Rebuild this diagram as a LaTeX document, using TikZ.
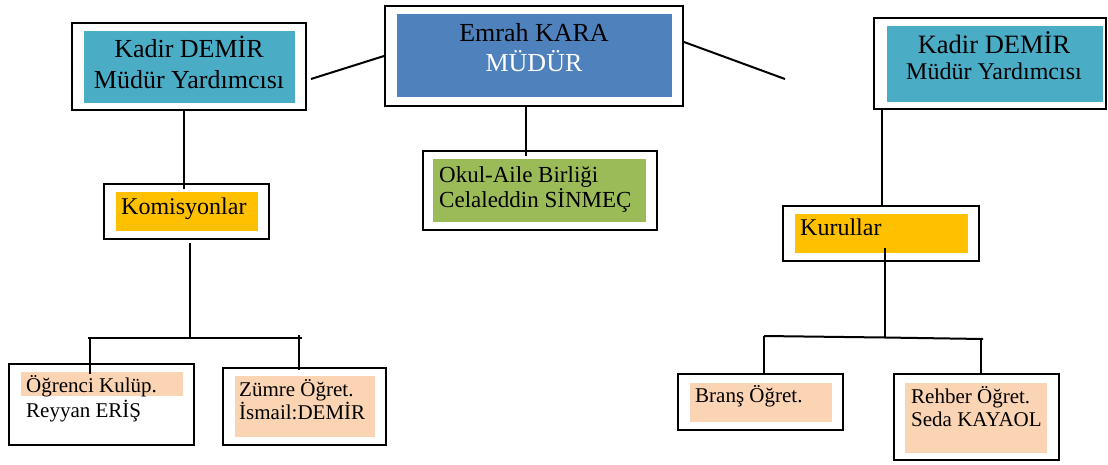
\documentclass[tikz,border=0pt]{standalone}
\usepackage{fontspec}
\setmainfont{Liberation Serif}
\definecolor{tealc}{HTML}{4BACC6}
\definecolor{bluec}{HTML}{4F81BD}
\definecolor{greenc}{HTML}{9BBB59}
\definecolor{orangec}{HTML}{FFC000}
\definecolor{peachc}{HTML}{FBD4B4}
\tikzset{
  outerbox/.style={draw=black, line width=2pt, rectangle, inner sep=0pt},
  fillbox/.style={rectangle, inner sep=0pt, draw=none},
  txt/.style={inner sep=0pt, anchor=base},
  ltxt/.style={inner sep=0pt, anchor=base west},
  link/.style={draw=black, line width=2pt},
  fbig/.style={font=\fontsize{26}{31}\selectfont},
  fmid/.style={font=\fontsize{23}{27}\selectfont},
  fsmall/.style={font=\fontsize{21}{25}\selectfont}
}
\begin{document}
\begin{tikzpicture}[x=1pt,y=-1pt]
\useasboundingbox (0,0) rectangle (1108,464);
% ---- Left Kadir DEMIR
\node[outerbox, minimum width=234pt, minimum height=87pt] (kdL) at (189,66.5) {};
\node[fillbox, fill=tealc, minimum width=211pt, minimum height=72pt] (kdLin) at (189,67) {};
\node[txt, fbig] (kdL1) at (189,57) {Kadir DEMİR};
\node[txt, fbig] (kdL2) at (189,88) {Müdür Yardımcısı};
% ---- Center Emrah KARA
\node[outerbox, minimum width=298pt, minimum height=100pt] (mud) at (534,56) {};
\node[fillbox, fill=bluec, minimum width=275pt, minimum height=83pt] (mudin) at (534.5,55.5) {};
\node[txt, fbig] (mud1) at (534,41) {Emrah KARA};
\node[txt, fbig, text=white] (mud2) at (534,71) {MÜDÜR};
% ---- Right Kadir DEMIR
\node[outerbox, minimum width=232pt, minimum height=91pt] (kdR) at (990,63.5) {};
\node[fillbox, fill=tealc, minimum width=216pt, minimum height=76pt] (kdRin) at (995,64) {};
\node[txt, font=\fontsize{26.5}{31}\selectfont] (kdR1) at (994,53) {Kadir DEMİR};
\node[txt, font=\fontsize{24}{28}\selectfont] (kdR2) at (994,79) {Müdür Yardımcısı};
% ---- Okul-Aile
\node[outerbox, minimum width=234pt, minimum height=79pt] (oab) at (540,190.5) {};
\node[fillbox, fill=greenc, minimum width=213pt, minimum height=63pt] (oabin) at (539.5,190.5) {};
\node[ltxt, fmid] (oab1) at (439,182) {Okul-Aile Birliği};
\node[ltxt, fmid] (oab2) at (439,207) {Celaleddin SİNMEÇ};
% ---- Komisyonlar
\node[outerbox, minimum width=165pt, minimum height=55pt] (kom) at (186.5,211.5) {};
\node[fillbox, fill=orangec, minimum width=142pt, minimum height=39pt] (komin) at (187,211.5) {};
\node[ltxt, font=\fontsize{24}{28}\selectfont] (kom1) at (121,214) {Komisyonlar};
% ---- Kurullar
\node[outerbox, minimum width=196pt, minimum height=55pt] (kur) at (881,233.5) {};
\node[fillbox, fill=orangec, minimum width=173pt, minimum height=39pt] (kurin) at (881.5,233.5) {};
\node[ltxt, font=\fontsize{24}{28}\selectfont] (kur1) at (800,235) {Kurullar};
% ---- Ogrenci Kulup
\node[outerbox, minimum width=185pt, minimum height=81pt] (ogr) at (101.5,404.5) {};
\node[fillbox, fill=peachc, minimum width=162pt, minimum height=24pt] (ogrin) at (102,384) {};
\node[ltxt, fsmall] (ogr1) at (26,392) {Öğrenci Kulüp.};
\node[ltxt, fsmall] (ogr2) at (26,417) {Reyyan ERİŞ};
% ---- Zumre
\node[outerbox, minimum width=163pt, minimum height=77pt] (zum) at (304.5,406.5) {};
\node[fillbox, fill=peachc, minimum width=140pt, minimum height=61pt] (zumin) at (305,406.5) {};
\node[ltxt, fsmall] (zum1) at (239,396) {Zümre Öğret.};
\node[ltxt, fsmall] (zum2) at (239,419) {İsmail:DEMİR};
% ---- Brans
\node[outerbox, minimum width=165pt, minimum height=56pt] (bra) at (760.5,402) {};
\node[fillbox, fill=peachc, minimum width=142pt, minimum height=39pt] (brain) at (761,402.5) {};
\node[ltxt, fsmall] (bra1) at (695,402) {Branş Öğret.};
% ---- Rehber
\node[outerbox, minimum width=165pt, minimum height=86pt] (reh) at (976.5,417) {};
\node[fillbox, fill=peachc, minimum width=142pt, minimum height=70pt] (rehin) at (976,418) {};
\node[ltxt, fsmall] (reh1) at (911,403) {Rehber Öğret.};
\node[ltxt, fsmall] (reh2) at (911,426) {Seda KAYAOL};
% ---- connectors
\coordinate (rfree) at (785,79);
\draw[link] ([xshift=4pt,yshift=-12.5pt]kdL.east) -- (mud.west |- 0,56);
\draw[link] (mud.east |- 0,42) -- (rfree);
\draw[link] (mud.south -| 526,0) -- ([yshift=-6pt]oab.north -| 526,0);
\draw[link] (kdL.south -| 184,0) -- ([yshift=-6pt]kom.north -| 184,0);
\draw[link] (kdR.south -| 882,0) -- ([yshift=-2pt]kur.north -| 882,0);
% Komisyonlar tree
\coordinate (kJ) at (190,339);
\coordinate (kL) at (88,338);
\coordinate (kR) at (302,338);
\draw[link] ([yshift=-3pt]kom.south -| 190,0) -- (kJ);
\draw[link] (kL) -- (kR);
\draw[link] (90,338) -- ([yshift=-11pt]ogr.north -| 90,0);
\draw[link] (299,335) -- ([yshift=-3pt]zum.north -| 299,0);
% Kurullar tree
\coordinate (uJ) at (885,338);
\draw[link] ([yshift=14pt]kur.south -| 885,0) -- (uJ);
\draw[link] (764,336) -- (885,337.5) -- (983,339);
\draw[link] (764,336) -- (bra.north -| 764,0);
\draw[link] (981,338) -- (reh.north -| 981,0);
\end{tikzpicture}
\end{document}
